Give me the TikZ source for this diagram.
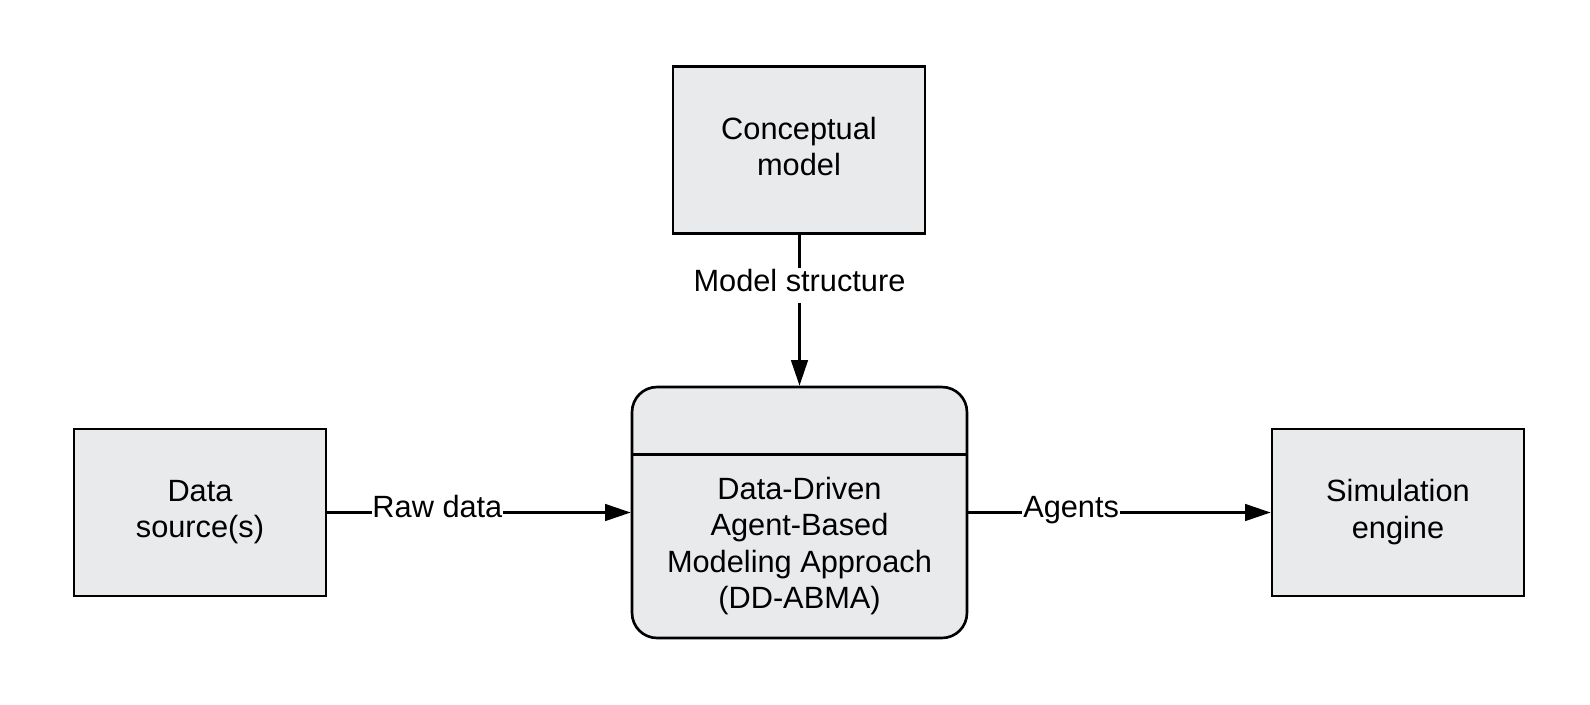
\documentclass[tikz,border=0pt]{standalone}
\usepackage{fontspec}
\setmainfont{Liberation Sans}
\usetikzlibrary{arrows.meta}
\definecolor{boxgray}{HTML}{E9EAEB}
\tikzset{
  box/.style={draw, fill=boxgray, line width=1.5pt, minimum width=5.04cm, minimum height=3.34cm, align=center, inner sep=2pt, text depth=4pt},
  conn/.style={line width=1.5pt, -{Triangle[length=14.5pt,width=9.4pt]}},
  lbl/.style={fill=white, inner xsep=0.5pt, inner ysep=1pt, text height=12pt, text depth=6pt},
  txt/.style={font=\fontsize{17.5}{20.8}\selectfont}
}
\begin{document}
\begin{tikzpicture}[x=0.02cm,y=-0.02cm, every node/.style={txt}]
\useasboundingbox (0,0) rectangle (1590,704);
\node[box] (cm) at (799,150) {Conceptual\\model};
\node[box] (ds) at (200,512.5) {Data\\source(s)};
\node[box] (se) at (1398,512.5) {Simulation\\engine};
\node[draw, fill=boxgray, line width=1.5pt, rounded corners=0.5cm, minimum width=6.7cm, minimum height=5.02cm] (dd) at (799.5,512.5) {};
\draw[line width=1.5pt] ([yshift=-1.38cm]dd.north west) -- ([yshift=-1.38cm]dd.north east);
\node[align=center] (ddt) at (799.5,546) {Data-Driven\\Agent-Based\\Modeling Approach\\(DD-ABMA)};
\draw[conn] (cm.south -| dd.north) -- node[lbl, pos=0.338] {Model structure} (dd.north);
\draw[conn] (ds.east) -- node[lbl, pos=0.363] {Raw data} (ds.east -| dd.west);
\draw[conn] (se.west -| dd.east) -- node[lbl, pos=0.34] {Agents} (se.west);
\end{tikzpicture}
\end{document}
